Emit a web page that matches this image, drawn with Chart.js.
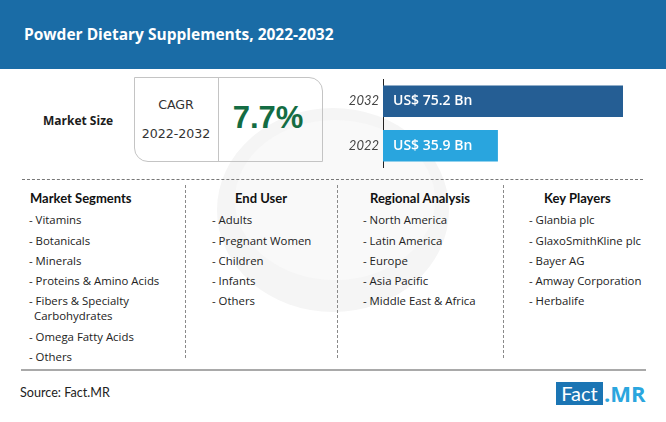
<!DOCTYPE html>
<html>
<head>
<meta charset="utf-8">
<script src="https://cdn.jsdelivr.net/npm/chart.js@4"></script>
<style>
  html, body { margin: 0; padding: 0; background: #fff; }
  #page { position: relative; width: 666px; height: 422px; overflow: hidden; background: #fff; font-family: Lato, sans-serif; color: #1c1c1c; }
  #page div { position: absolute; white-space: nowrap; }
  #header { left: 0; top: 0; width: 666px; height: 69px; background: #1a6ca6; }
  #title { left: 24px; top: 23px; font: bold 15.5px "Open Sans", sans-serif; color: #fff; }
  #plate { position: absolute; left: 0; top: 0; }
  #size { left: 43px; top: 112px; font: bold 12px "Open Sans", sans-serif; }
  #cagrBox { left: 134px; top: 77px; width: 187px; height: 83px; border: 1px solid #c4c4c4; border-radius: 0 14px 0 14px; }
  #cagrLine { left: 218px; top: 78px; width: 1px; height: 83px; background: #c4c4c4; }
  .cagrText { width: 84px; left: 134px; text-align: center; font: 12.6px "DejaVu Sans", sans-serif; color: #333; }
  #pct { left: 217px; width: 102px; top: 100px; text-align: center; font: bold 31px "Liberation Sans", sans-serif; color: #146c43; }
  #barWrap { left: 340px; top: 78.5px; width: 283px; height: 89px; }
  .hr { left: 22px; width: 621px; top: 179px; height: 0; border-top: 1px dashed #777; }
  .vr { top: 185px; height: 173px; width: 0; border-left: 1px dashed #8a8a8a; }
  #base { left: 21px; top: 369px; width: 625px; height: 2px; background: #a9a9a9; }
  .head { top: 190px; font: bold 13px Lato, sans-serif; color: #111; }
  .item { font: 11.4px "Open Sans", sans-serif; color: #222; }
  #source { left: 20px; top: 385px; font: 12.6px Lato, sans-serif; color: #222; }
  #logoBox { left: 556px; top: 382px; width: 47px; height: 23px; background: #1b75b4; color: #fff; font: 20px/23px Lato, sans-serif; text-align: center; }
  #logoMr { left: 604px; top: 381px; font: bold 22px/24px "Open Sans", sans-serif; color: #2ba6de; }
</style>
</head>
<body>
<div id="page">
  <svg id="plate" width="666" height="422">
    <ellipse cx="333" cy="210" rx="116" ry="102" fill="#f5f5f5"/>
    <ellipse cx="335" cy="200" rx="100" ry="80" fill="#f9f9f9"/>
  </svg>
  <div id="header"></div>
  <div id="title">Powder Dietary Supplements, 2022-2032</div>
  <div id="size">Market Size</div>
  <div id="cagrBox"></div>
  <div id="cagrLine"></div>
  <div class="cagrText" style="top:97px">CAGR</div>
  <div class="cagrText" style="top:126px">2022-2032</div>
  <div id="pct">7.7%</div>
  <div id="barWrap"><canvas id="bars" width="283" height="89"></canvas></div>
  <div class="hr"></div>
  <div class="vr" style="left:185px"></div>
  <div class="vr" style="left:337px"></div>
  <div class="vr" style="left:503px"></div>
  <div id="base"></div>
  <div id="source">Source: Fact.MR</div>
  <div id="logoBox">Fact</div>
  <div id="logoMr">.MR</div>
</div>
<script>
const years = ['2032', '2022'];
const marketSize = [75.2, 35.9];
const barColors = ['#255e94', '#29a5de'];

const segments = ['Vitamins', 'Botanicals', 'Minerals', 'Proteins & Amino Acids', 'Fibers & Specialty', 'Carbohydrates', 'Omega Fatty Acids', 'Others'];
const endUsers = ['Adults', 'Pregnant Women', 'Children', 'Infants', 'Others'];
const regions = ['North America', 'Latin America', 'Europe', 'Asia Pacific', 'Middle East & Africa'];
const players = ['Glanbia plc', 'GlaxoSmithKline plc', 'Bayer AG', 'Amway Corporation', 'Herbalife'];

const page = document.getElementById('page');
const rowY = [212, 232.5, 252.5, 273, 293, 308, 328.5, 348.5];

function addColumn(title, headX, itemX, items) {
  const h = document.createElement('div');
  h.className = 'head';
  h.style.left = headX + 'px';
  h.textContent = title;
  page.appendChild(h);
  items.forEach((txt, i) => {
    const d = document.createElement('div');
    d.className = 'item';
    const wrapped = txt === 'Carbohydrates';
    d.style.left = (wrapped ? itemX + 5 : itemX) + 'px';
    d.style.top = rowY[i] + 'px';
    d.textContent = wrapped ? txt : '- ' + txt;
    page.appendChild(d);
  });
}
addColumn('Market Segments', 30, 29, segments);
addColumn('End User', 235, 212, endUsers);
addColumn('Regional Analysis', 370, 363, regions);
addColumn('Key Players', 544, 529, players);

// value labels sit inside the bars
const barLabels = {
  id: 'barLabels',
  afterDatasetsDraw(chart) {
    const ctx = chart.ctx;
    chart.getDatasetMeta(0).data.forEach((bar, i) => {
      ctx.save();
      ctx.fillStyle = '#fff';
      ctx.font = '600 14px "Open Sans", sans-serif';
      ctx.textBaseline = 'middle';
      ctx.fillText('US$ ' + marketSize[i] + ' Bn', chart.scales.x.left + 10, bar.y);
      ctx.restore();
    });
  }
};

new Chart(document.getElementById('bars'), {
  type: 'bar',
  data: {
    labels: years,
    datasets: [{ data: marketSize, backgroundColor: barColors, barThickness: 31 }]
  },
  options: {
    indexAxis: 'y',
    responsive: false,
    animation: false,
    layout: { padding: 0, autoPadding: false },
    plugins: { legend: { display: false }, tooltip: { enabled: false } },
    scales: {
      x: { display: false, min: 0, max: 75.2 },
      y: {
        afterFit(scale) { scale.width = 43; scale.paddingTop = 0; scale.paddingBottom = 0; },
        grid: { display: false, drawTicks: false },
        border: { color: '#222', width: 1 },
        ticks: { color: '#444', padding: 4, font: { family: 'Lato', style: 'italic', size: 13 } }
      }
    }
  },
  plugins: [barLabels]
});
</script>
</body>
</html>
